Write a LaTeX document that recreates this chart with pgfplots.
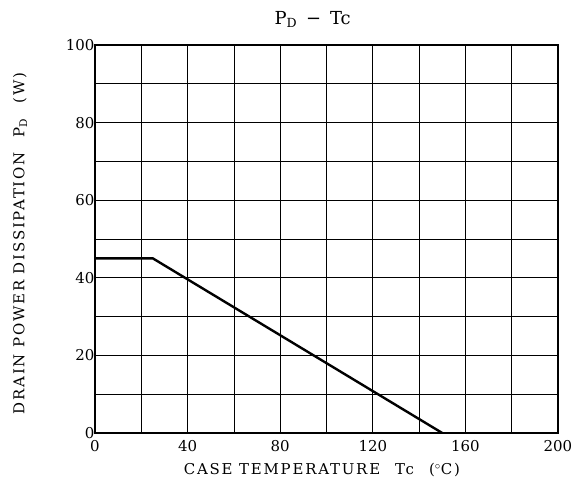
\documentclass[border=0pt]{standalone}
\usepackage{fontspec}
\setmainfont{DejaVu Serif}
\newfontfamily\spaced[LetterSpace=12]{DejaVu Serif}
\usepackage{pgfplots}
\pgfplotsset{compat=1.18}
\begin{document}
\begin{tikzpicture}
\useasboundingbox (-95bp,-60bp) rectangle (478bp,433bp);
\begin{axis}[
  scale only axis, width=463bp, height=388bp,
  xmin=0, xmax=200, ymin=0, ymax=100,
  xtick={0,40,...,200}, minor xtick={20,60,...,180},
  ytick={0,20,...,100}, minor ytick={10,30,...,90},
  grid=both,
  major grid style={black, line width=0.7pt},
  minor grid style={black, line width=0.7pt},
  major tick length=0pt, minor tick length=0pt,
  axis line style={black, line width=1.6pt},
  /pgf/number format/assume math mode=true,
  ticklabel style={font=\fontsize{15}{17}\selectfont},
  xticklabel style={yshift=-4pt},
  yticklabel style={xshift=3pt},
  xlabel={CASE TEMPERATURE\quad Tc\quad ($^\circ$C)},
  ylabel={DRAIN POWER DISSIPATION\quad P\textsubscript{D}\quad (W)},
  label style={font=\spaced\fontsize{15}{17}\selectfont},
  xlabel style={at={(axis description cs:0.49,-0.095)}, anchor=center},
  ylabel style={at={(axis description cs:-0.162,0.488)}, anchor=center},
  title={P\textsubscript{D}\enspace\symbol{"2212}\enspace Tc},
  title style={font=\fontsize{18}{20}\selectfont, at={(axis description cs:0.47,1.05)}, anchor=center},
]
\addplot[black, line width=2.4pt] coordinates {(0,45) (25,45) (150,0)};
\end{axis}
\end{tikzpicture}
\end{document}
